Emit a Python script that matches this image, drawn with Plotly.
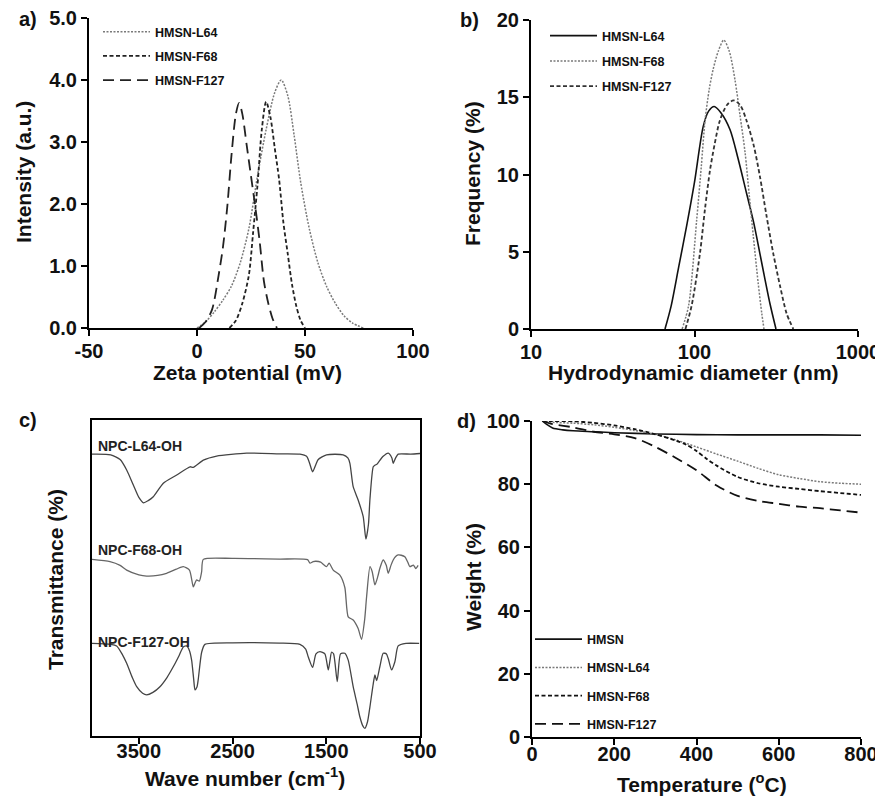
import plotly.graph_objects as go

# The page body has an 8px margin, so the figure is sized to fit the 883x801 window
OFF = 8
W, H = 883 - OFF, 801 - OFF
def fx(px): return (px - OFF) / W
def fy(py): return 1 - (py - OFF) / H

FONT = "Liberation Sans, Arial, sans-serif"

# ---------------- Panel a: zeta potential ----------------
za_l64_x = [0, 4, 8, 12, 16, 20, 24, 28, 32, 36, 39, 42, 45, 48, 52, 56, 60, 64, 68, 72, 77]
za_l64_y = [0, 0.1, 0.26, 0.45, 0.68, 1.05, 1.6, 2.45, 3.2, 3.8, 4.0, 3.75, 3.1, 2.35, 1.6, 1.05, 0.67, 0.4, 0.2, 0.08, 0]
za_f68_x = [15, 18, 21, 24, 26, 28, 30, 32, 34, 36, 38, 40, 42, 44, 46, 48, 50]
za_f68_y = [0, 0.12, 0.4, 0.85, 1.55, 2.3, 3.2, 3.65, 3.4, 2.9, 2.4, 1.7, 1.2, 0.7, 0.35, 0.12, 0]
za_f127_x = [1, 4, 7, 10, 12, 14, 16, 18, 19.5, 21, 23, 25, 27, 29, 31, 33, 35, 37]
za_f127_y = [0, 0.1, 0.3, 0.85, 1.3, 1.95, 2.8, 3.45, 3.63, 3.45, 2.95, 2.45, 1.95, 1.4, 0.75, 0.4, 0.15, 0]
za_ticks = [-50, 0, 50, 100]
za_ticktext = ["-50", "0", "50", "100"]
za_yticks = [0, 1, 2, 3, 4, 5]
za_yticktext = ["0.0", "1.0", "2.0", "3.0", "4.0", "5.0"]

# ---------------- Panel b: DLS size ----------------
db_l64_x = [66, 72, 80, 90, 100, 113, 122, 132, 145, 165, 185, 208, 230, 251, 270, 290, 315]
db_l64_y = [0, 1.5, 4.0, 6.8, 9.5, 13.1, 14.1, 14.4, 14.0, 12.9, 11.0, 8.8, 6.9, 4.9, 3.2, 1.6, 0]
db_f68_x = [84, 92, 103, 110, 116, 123, 130, 140, 151, 163, 177, 190, 204, 216, 229, 245, 258, 266]
db_f68_y = [0, 1.5, 7.0, 10.5, 13.5, 15.5, 16.8, 18.0, 18.7, 18.0, 16.1, 13.8, 11.4, 8.7, 6.0, 3.0, 1.0, 0]
db_f127_x = [88, 96, 108, 116, 124.5, 133, 143, 158, 173, 190, 208, 230, 251, 275, 303, 335, 366, 402]
db_f127_y = [0, 1.5, 4.9, 7.8, 10.3, 12.0, 13.5, 14.5, 14.8, 14.5, 13.5, 11.9, 9.9, 7.4, 4.9, 2.7, 1.0, 0]
db_ticks = [10, 100, 1000]
db_yticks = [0, 5, 10, 15, 20]

# ---------------- Panel c: FTIR (arbitrary transmittance units, offset) ----------------
ir_l64_wn = [4000, 3800, 3700, 3630, 3560, 3500, 3450, 3400, 3346, 3239, 3096, 2954, 2920, 2812, 2670, 2350,
             2000, 1781, 1710, 1680, 1646, 1610, 1586, 1497, 1320, 1270, 1248, 1213, 1160, 1106, 1077, 1050,
             1034, 999, 981, 960, 946, 893, 839, 800, 786, 760, 733, 600, 500]
ir_l64_t = [89.2, 89.0, 87.5, 84.2, 79.5, 75.5, 73.8, 74.5, 75.7, 80.0, 82.6, 85.2, 85.0, 87.3, 88.6, 89.5,
            89.3, 89.2, 88.5, 86.5, 83.6, 86.0, 87.5, 89.0, 89.0, 88.0, 86.3, 78.9, 74.7, 69.4, 62.3, 67.0,
            75.0, 85.2, 85.7, 86.0, 86.5, 88.5, 89.5, 88.0, 86.3, 88.0, 89.2, 89.2, 89.4]
ir_f68_wn = [4000, 3808, 3700, 3630, 3500, 3417, 3300, 3204, 3100, 3026, 2960, 2919, 2900, 2883, 2855, 2830,
             2812, 2500, 2000, 1700, 1674, 1640, 1610, 1560, 1497, 1470, 1426, 1355, 1302, 1266, 1213, 1160,
             1124, 1090, 1070, 1034, 1010, 981, 950, 928, 893, 860, 839, 810, 786, 760, 733, 700, 662, 630,
             608, 570, 545, 520]
ir_f68_t = [55.9, 55.2, 54.0, 52.5, 51.0, 50.6, 50.8, 51.5, 52.8, 53.6, 52.5, 47.2, 48.5, 49.4, 49.0, 52.0,
            55.9, 56.2, 56.0, 55.8, 54.7, 55.2, 55.3, 55.0, 53.6, 54.7, 52.5, 50.9, 47.0, 37.7, 36.7, 34.0,
            30.6, 37.0, 44.0, 53.6, 52.0, 47.8, 50.5, 53.1, 55.7, 54.0, 51.5, 54.0, 55.7, 56.8, 57.3, 57.2,
            56.7, 55.0, 53.6, 54.1, 53.0, 54.0]
ir_f127_wn = [4000, 3800, 3737, 3680, 3630, 3570, 3523, 3460, 3417, 3350, 3275, 3200, 3133, 3070, 3026, 2990,
              2960, 2937, 2915, 2901, 2880, 2866, 2830, 2795, 2500, 2000, 1781, 1720, 1692, 1646, 1610, 1568,
              1515, 1479, 1460, 1444, 1422, 1383, 1348, 1302, 1266, 1213, 1170, 1142, 1110, 1088, 1060, 1034,
              999, 981, 963, 928, 893, 860, 839, 804, 768, 733, 650, 509]
ir_f127_t = [29.3, 29.0, 28.5, 26.0, 23.0, 18.5, 15.6, 13.5, 13.0, 13.8, 15.6, 18.5, 21.9, 25.5, 28.2, 28.5,
             27.0, 24.0, 18.0, 14.6, 15.5, 18.0, 26.5, 29.0, 29.5, 29.4, 29.0, 27.5, 25.0, 21.7, 26.0, 26.7,
             26.0, 20.9, 24.0, 26.5, 26.0, 17.2, 26.0, 26.2, 24.0, 15.6, 10.0, 6.1, 3.2, 2.4, 4.5, 9.3,
             16.5, 19.3, 17.5, 22.0, 26.2, 26.0, 24.5, 20.9, 23.5, 28.5, 29.3, 29.3]
ir_labels = ["NPC-L64-OH", "NPC-F68-OH", "NPC-F127-OH"]
ir_ticks = [3500, 2500, 1500, 500]

# ---------------- Panel d: TGA ----------------
tg_hmsn_t = [25, 35, 50, 75, 100, 150, 200, 300, 400, 500, 600, 700, 800]
tg_hmsn_w = [100, 99, 97.8, 97.2, 96.9, 96.6, 96.3, 95.9, 95.7, 95.6, 95.6, 95.6, 95.5]
tg_l64_t = [25, 50, 100, 150, 200, 250, 300, 350, 400, 450, 500, 550, 600, 650, 700, 750, 800]
tg_l64_w = [100, 99.6, 99.3, 98.8, 98.0, 97.0, 95.8, 94.0, 91.8, 89.5, 87.3, 85.0, 83.0, 81.8, 80.8, 80.3, 80.0]
tg_f68_t = [25, 50, 100, 150, 200, 250, 300, 350, 375, 400, 425, 450, 500, 550, 600, 650, 700, 750, 800]
tg_f68_w = [100, 100, 99.9, 99.4, 98.6, 97.4, 95.8, 93.8, 92.5, 90.5, 88.0, 85.8, 82.3, 80.3, 79.2, 78.5, 77.8, 77.2, 76.6]
tg_f127_t = [25, 50, 100, 150, 200, 250, 300, 350, 400, 450, 500, 550, 600, 650, 700, 750, 800]
tg_f127_w = [100, 99.0, 98.0, 96.6, 95.8, 94.6, 91.8, 88.3, 84.4, 79.5, 76.3, 74.7, 73.8, 72.9, 72.4, 71.7, 71.0]
tg_ticks = [0, 200, 400, 600, 800]
tg_yticks = [0, 20, 40, 60, 80, 100]

DOT = "2px,1.5px"
SDASH = "4px,2.5px"
LDASH = "11px,6px"

def bold(vals):
    return ["<b>%s</b>" % v for v in vals]

fig = go.Figure()

def add(x, y, name, xa, ya, color, dash, width, legend, group):
    fig.add_trace(go.Scatter(
        x=x, y=y, name="<b>%s</b>" % name, mode="lines", xaxis=xa, yaxis=ya,
        line=dict(color=color, dash=dash, width=width, shape="spline", smoothing=0.8),
        legend=legend, legendgroup=group))

# a
add(za_l64_x, za_l64_y, "HMSN-L64", "x", "y", "#7a7a7a", DOT, 1.5, "legend", "a1")
add(za_f68_x, za_f68_y, "HMSN-F68", "x", "y", "#222222", SDASH, 1.8, "legend", "a2")
add(za_f127_x, za_f127_y, "HMSN-F127", "x", "y", "#222222", LDASH, 1.8, "legend", "a3")
# b
add(db_l64_x, db_l64_y, "HMSN-L64", "x2", "y2", "#111111", "solid", 1.6, "legend2", "b1")
add(db_f68_x, db_f68_y, "HMSN-F68", "x2", "y2", "#7a7a7a", DOT, 1.5, "legend2", "b2")
add(db_f127_x, db_f127_y, "HMSN-F127", "x2", "y2", "#333333", SDASH, 1.8, "legend2", "b3")
# c
for wn, t, col in [(ir_l64_wn, ir_l64_t, "#444444"), (ir_f68_wn, ir_f68_t, "#666666"), (ir_f127_wn, ir_f127_t, "#444444")]:
    fig.add_trace(go.Scatter(x=wn, y=t, mode="lines", xaxis="x3", yaxis="y3", showlegend=False,
                             line=dict(color=col, width=1.3, shape="spline", smoothing=0.6)))
# d
add(tg_hmsn_t, tg_hmsn_w, "HMSN", "x4", "y4", "#111111", "solid", 1.6, "legend3", "d1")
add(tg_l64_t, tg_l64_w, "HMSN-L64", "x4", "y4", "#7a7a7a", DOT, 1.5, "legend3", "d2")
add(tg_f68_t, tg_f68_w, "HMSN-F68", "x4", "y4", "#111111", SDASH, 1.8, "legend3", "d3")
add(tg_f127_t, tg_f127_w, "HMSN-F127", "x4", "y4", "#111111", LDASH, 1.8, "legend3", "d4")

tickf = dict(family=FONT, size=20, color="#111111")
axbase = dict(showline=True, linecolor="#000000", linewidth=2, ticks="outside", ticklen=6, tickwidth=2,
              tickcolor="#000000", showgrid=False, zeroline=False, tickfont=tickf, automargin=False,
              ticklabeloverflow="allow")

fig.update_layout(
    width=W, height=H, margin=dict(l=0, r=0, t=0, b=0, autoexpand=False),
    paper_bgcolor="white", plot_bgcolor="white",
    font=dict(family=FONT, color="#111111"),
    xaxis=dict(axbase, domain=[fx(89), fx(413)], anchor="y", range=[-50, 100],
               tickvals=za_ticks, ticktext=bold(za_ticktext), ticklabelstandoff=-2),
    yaxis=dict(axbase, domain=[fy(328), fy(18)], anchor="x", range=[0, 5],
               tickvals=za_yticks, ticktext=bold(za_yticktext)),
    xaxis2=dict(axbase, domain=[fx(531), fx(858)], anchor="y2", type="log", range=[1, 3],
                tickvals=db_ticks, ticktext=bold(db_ticks), ticklabelstandoff=-2),
    yaxis2=dict(axbase, domain=[fy(329), fy(20)], anchor="x2", range=[0, 20],
                tickvals=db_yticks, ticktext=bold(db_yticks)),
    xaxis3=dict(axbase, domain=[fx(92), fx(420)], anchor="y3", range=[4000, 500],
                tickvals=ir_ticks, ticktext=bold(ir_ticks), mirror=True, linewidth=1.5,
                ticklabelstandoff=-10),
    yaxis3=dict(showline=True, linecolor="#000000", linewidth=1.5, mirror=True, showgrid=False, zeroline=False,
                showticklabels=False, ticks="", domain=[fy(736), fy(420)], anchor="x3", range=[0, 100],
                automargin=False),
    xaxis4=dict(axbase, domain=[fx(532), fx(861)], anchor="y4", range=[0, 800],
                tickvals=tg_ticks, ticktext=bold(tg_ticks), ticklabelstandoff=-8),
    yaxis4=dict(axbase, domain=[fy(737), fy(421)], anchor="x4", range=[0, 100],
                tickvals=tg_yticks, ticktext=bold(tg_yticks)),
)

legfont = dict(family=FONT, size=12.5, color="#111111")
fig.update_layout(
    legend=dict(x=fx(98), y=fy(17), xanchor="left", yanchor="top", bgcolor="rgba(0,0,0,0)",
                font=legfont, itemwidth=47, tracegroupgap=5),
    legend2=dict(x=fx(545), y=fy(21), xanchor="left", yanchor="top", bgcolor="rgba(0,0,0,0)",
                 font=legfont, itemwidth=47, tracegroupgap=6),
    legend3=dict(x=fx(530), y=fy(624.5), xanchor="left", yanchor="top", bgcolor="rgba(0,0,0,0)",
                 font=legfont, itemwidth=47, tracegroupgap=9),
)

ann = []
def txt(text, px, py, size=21, angle=0, xanchor="center", yanchor="middle", color="#111111"):
    ann.append(dict(text="<b>%s</b>" % text, x=fx(px), y=fy(py), xref="paper", yref="paper", showarrow=False,
                    xanchor=xanchor, yanchor=yanchor, textangle=angle,
                    font=dict(family=FONT, size=size, color=color)))

# panel letters
txt("a)", 17, 19, 20, xanchor="left")
txt("b)", 458, 20, 20, xanchor="left")
txt("c)", 17, 420, 20, xanchor="left")
txt("d)", 455, 421, 20, xanchor="left")
# axis titles
txt("Zeta potential (mV)", 247, 372)
txt("Intensity (a.u.)", 23, 172, angle=-90)
txt("Hydrodynamic diameter (nm)", 693, 372)
txt("Frequency (%)", 472, 173, angle=-90)
txt("Wave number (cm<sup>-1</sup>)", 245, 777)
txt("Transmittance (%)", 55, 580, angle=-90)
txt("Temperature (<sup>o</sup>C)", 702, 783)
txt("Weight (%)", 473, 577, angle=-90)
# spectrum labels
for lab, py in zip(ir_labels, [446, 550, 642]):
    txt(lab, 96, py, 14, xanchor="left", color="#222222")

fig.update_layout(annotations=ann)
fig.write_html("out.html")
